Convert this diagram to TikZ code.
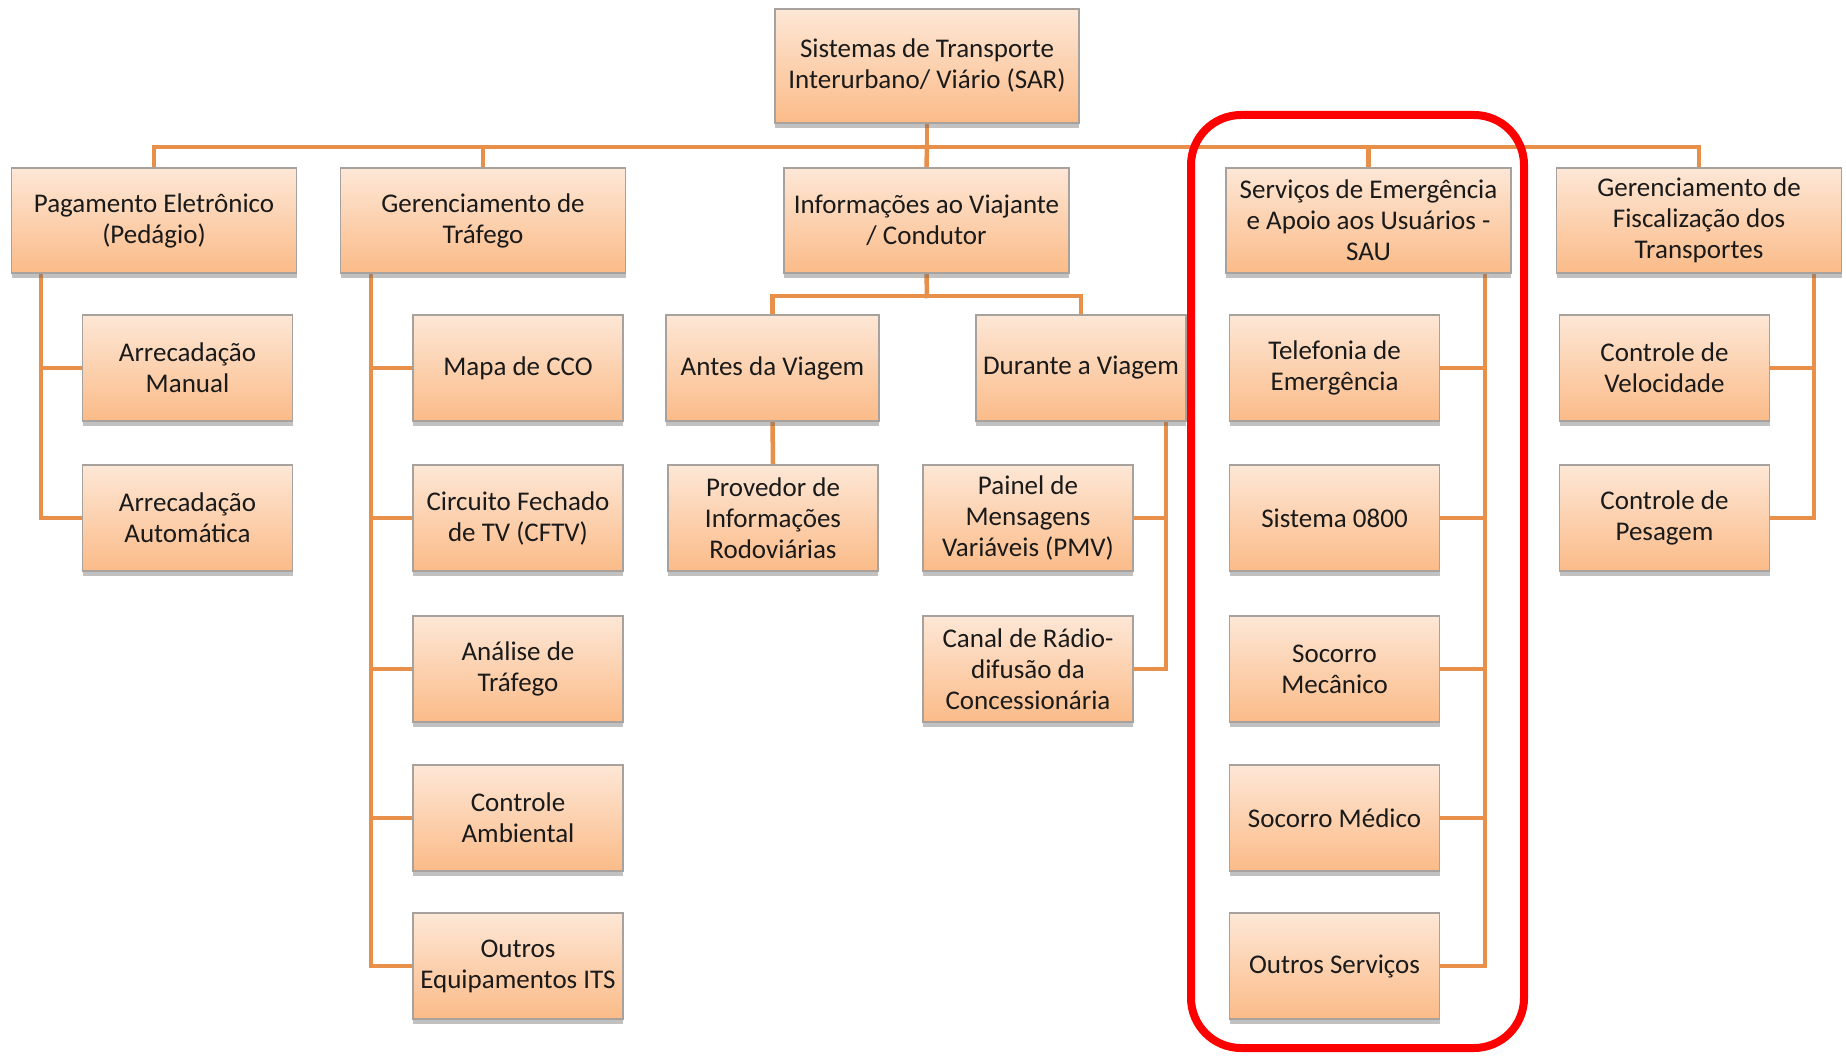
\documentclass[tikz,border=0pt]{standalone}
\usepackage{fontspec}
\setmainfont{Carlito}
\usetikzlibrary{shadows,backgrounds}
\definecolor{lineor}{HTML}{E8904A}
\definecolor{boxtop}{HTML}{FDE7D6}
\definecolor{boxbot}{HTML}{FBBB88}
\definecolor{boxedge}{HTML}{A8A29E}
\definecolor{txt}{HTML}{1A1A1A}
\tikzset{
  box/.style={rectangle, draw=boxedge, line width=1.3pt, top color=boxtop, bottom color=boxbot,
    align=center, text=txt, font=\fontsize{27}{31}\selectfont, inner sep=2pt,
    drop shadow={shadow xshift=0pt, shadow yshift=-5pt, opacity=0.4, fill=black!60}},
  topbox/.style={box, minimum width=285pt, minimum height=105pt},
  subbox/.style={box, minimum width=210pt, minimum height=106pt},
  conn/.style={draw=lineor, line width=4.5pt, line cap=rect, line join=miter},
  hilite/.style={draw=red, line width=8pt, rounded corners=50pt}
}
\begin{document}
\begin{tikzpicture}[x=1pt,y=-1pt]
\useasboundingbox (0,0) rectangle (1846,1056);
% root
\node[box, minimum width=304pt, minimum height=114pt] (root) at (927,66) {Sistemas de Transporte\\Interurbano/ Viário (SAR)};
% top level
\node[topbox] (pag) at (154,220.5) {Pagamento Eletrônico\\(Pedágio)};
\node[topbox] (ger) at (483,220.5) {Gerenciamento de\\Tráfego};
\node[topbox] (inf) at (926.5,220.5) {Informações ao Viajante\\/ Condutor};
\node[topbox] (sau) at (1368.5,220.5) {Serviços de Emergência\\e Apoio aos Usuários -\\SAU};
\node[topbox] (fis) at (1699,220.5) {Gerenciamento de\\Fiscalização dos\\Transportes};
% pagamento children
\node[subbox] (arm) at (187.5,368) {Arrecadação\\Manual};
\node[subbox] (ara) at (187.5,518) {Arrecadação\\Automática};
% gerenciamento children
\node[subbox] (mapa) at (518,368) {Mapa de CCO};
\node[subbox] (circ) at (518,518) {Circuito Fechado\\de TV (CFTV)};
\node[subbox] (anal) at (518,669) {Análise de\\Tráfego};
\node[subbox] (amb) at (518,818) {Controle\\Ambiental};
\node[subbox] (outeq) at (518,966) {Outros\\Equipamentos ITS};
% informacoes children
\node[subbox, minimum width=213pt] (antes) at (772.5,368) {Antes da Viagem};
\node[subbox] (prov) at (773,518) {Provedor de\\Informações\\Rodoviárias};
\node[subbox] (dur) at (1081,368) {Durante a Viagem};
\node[subbox] (painel) at (1028,518) {Painel de\\Mensagens\\Variáveis (PMV)};
\node[subbox] (canal) at (1028,669) {Canal de Rádio-\\difusão da\\Concessionária};
% SAU children
\node[subbox] (tel) at (1334.5,368) {Telefonia de\\Emergência};
\node[subbox] (s0800) at (1334.5,518) {Sistema 0800};
\node[subbox] (socmec) at (1334.5,669) {Socorro\\Mecânico};
\node[subbox] (socmed) at (1334.5,818) {Socorro Médico};
\node[subbox] (outserv) at (1334.5,966) {Outros Serviços};
% fiscalizacao children
\node[subbox] (vel) at (1664.5,368) {Controle de\\Velocidade};
\node[subbox] (pes) at (1664.5,518) {Controle de\\Pesagem};
% highlight
\draw[hilite] (1191,115) rectangle (1524,1048);
% connectors
\coordinate (bus) at (927,147);
\coordinate (infbus) at (927,296);
\coordinate (pagT) at (41,273);
\coordinate (gerT) at (371,273);
\coordinate (sauT) at (1485,273);
\coordinate (fisT) at (1814,273);
\coordinate (durT) at (1166,420);
\begin{scope}[on background layer]
\fill[white] (0,0) rectangle (1846,1056);
\draw[conn] (root.south) -- (bus);
\draw[conn] (bus) -| (pag.north);
\draw[conn] (bus) -| (ger.north);
\draw[conn] (bus) -- (inf.north);
\draw[conn] (bus) -| (sau.north);
\draw[conn] (bus) -| (fis.north);
\draw[conn] (pagT) |- (arm.west);
\draw[conn] (pagT) |- (ara.west);
\draw[conn] (gerT) |- (mapa.west);
\draw[conn] (gerT) |- (circ.west);
\draw[conn] (gerT) |- (anal.west);
\draw[conn] (gerT) |- (amb.west);
\draw[conn] (gerT) |- (outeq.west);
\draw[conn] (inf.south) -- (infbus);
\draw[conn] (infbus) -| (antes.north);
\draw[conn] (infbus) -| (dur.north);
\draw[conn] (antes.south) -- (prov.north);
\draw[conn] (durT) |- (painel.east);
\draw[conn] (durT) |- (canal.east);
\draw[conn] (sauT) |- (tel.east);
\draw[conn] (sauT) |- (s0800.east);
\draw[conn] (sauT) |- (socmec.east);
\draw[conn] (sauT) |- (socmed.east);
\draw[conn] (sauT) |- (outserv.east);
\draw[conn] (fisT) |- (vel.east);
\draw[conn] (fisT) |- (pes.east);
\end{scope}
\end{tikzpicture}
\end{document}
